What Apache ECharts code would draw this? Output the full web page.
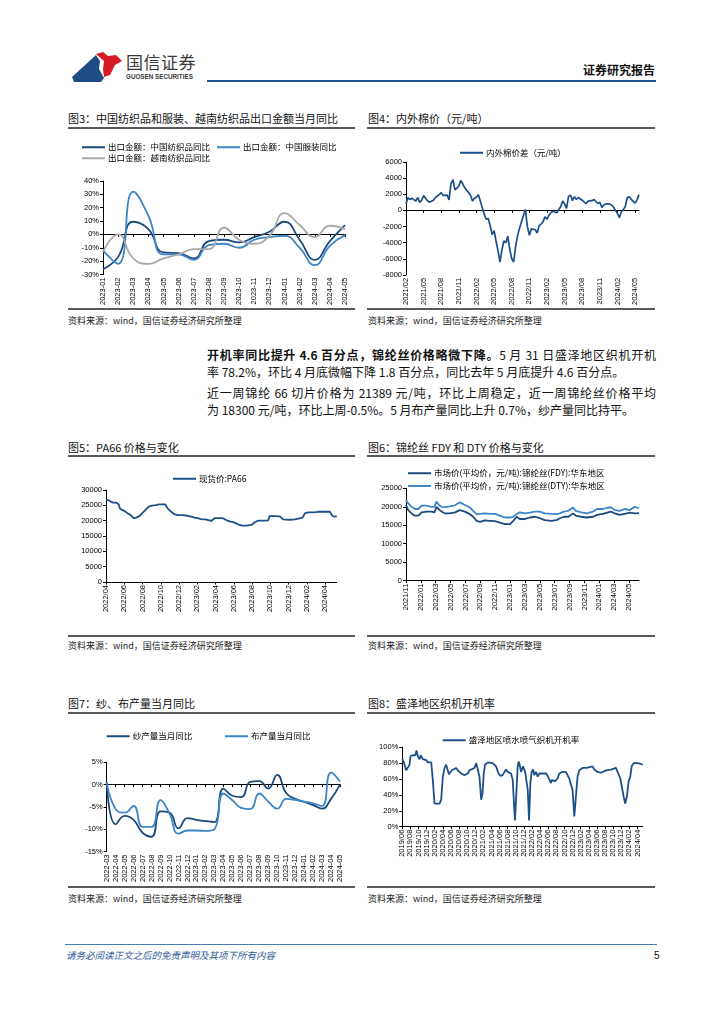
<!DOCTYPE html>
<html><head><meta charset="utf-8">
<script src="https://cdn.jsdelivr.net/npm/echarts@6/dist/echarts.min.js"></script>
<style>
body{margin:0;background:#fff;width:724px;height:1024px;position:relative;overflow:hidden;font-family:"Noto Sans CJK SC","Liberation Sans",sans-serif;color:#000}
.abs{position:absolute}
.title{font-size:11px;line-height:14px;color:#111;white-space:nowrap}
.rule{height:1.5px;background:#5a5a5a}
.src{font-size:9px;line-height:12px;color:#222;white-space:nowrap}
.para{font-size:12px;line-height:16px;white-space:nowrap;width:449px;color:#111}
.full{text-align:justify;text-align-last:justify}
.chart{position:absolute}
</style></head><body>

<!-- header -->
<svg class="abs" style="left:68px;top:50px" width="60" height="36" viewBox="0 0 60 36">
  <path d="M4,27 L28,5 L32,11 L31,19 L36,28 L33,32 L6,32 Z" fill="#1d4d84"/>
  <path d="M28,4 L35,2 L40,6 L48,5 L54,11 L47,15 L42,25 L36,27 L35,19 L36,11 Z" fill="#d71a27"/>
</svg>
<div class="abs" style="left:126px;top:52px;font-size:17px;line-height:20px;color:#3a3a3a;letter-spacing:0.5px">国信证券</div>
<div class="abs" style="left:126px;top:73px;font-size:6.3px;line-height:8px;color:#3a3a3a;font-family:'Liberation Sans';font-weight:bold">GUOSEN SECURITIES</div>
<div class="abs" style="left:207px;top:80px;width:449px;height:1.6px;background:#1f5592"></div>
<div class="abs" style="left:583px;top:62px;font-size:12px;line-height:16px;font-weight:bold;color:#111">证券研究报告</div>

<!-- row 1 -->
<div class="abs title" style="left:68px;top:111px">图3：中国纺织品和服装、越南纺织品出口金额当月同比</div>
<div class="abs title" style="left:368px;top:111px">图4：内外棉价（元/吨）</div>
<div class="abs rule" style="left:68px;top:127px;width:287px"></div>
<div class="abs rule" style="left:367px;top:127px;width:288px"></div>
<div class="abs rule" style="left:68px;top:308px;width:287px"></div>
<div class="abs rule" style="left:367px;top:308px;width:288px"></div>
<div class="abs src" style="left:68px;top:315px">资料来源：wind，国信证券经济研究所整理</div>
<div class="abs src" style="left:368px;top:315px">资料来源：wind，国信证券经济研究所整理</div>

<!-- paragraphs -->
<div class="abs para full" style="left:207px;top:347px"><b>开机率同比提升 4.6 百分点，锦纶丝价格略微下降。</b>5 月 31 日盛泽地区织机开机</div>
<div class="abs para" style="left:207px;top:364px">率 78.2%，环比 4 月底微幅下降 1.8 百分点，同比去年 5 月底提升 4.6 百分点。</div>
<div class="abs para full" style="left:207px;top:385px">近一周锦纶 66 切片价格为 21389 元/吨，环比上周稳定，近一周锦纶丝价格平均</div>
<div class="abs para" style="left:207px;top:402px">为 18300 元/吨，环比上周-0.5%。5 月布产量同比上升 0.7%，纱产量同比持平。</div>

<!-- row 2 -->
<div class="abs title" style="left:68px;top:440px">图5：PA66 价格与变化</div>
<div class="abs title" style="left:368px;top:440px">图6：锦纶丝 FDY 和 DTY 价格与变化</div>
<div class="abs rule" style="left:68px;top:455px;width:287px"></div>
<div class="abs rule" style="left:367px;top:455px;width:288px"></div>
<div class="abs rule" style="left:68px;top:635px;width:287px"></div>
<div class="abs rule" style="left:367px;top:635px;width:288px"></div>
<div class="abs src" style="left:68px;top:640px">资料来源：wind，国信证券经济研究所整理</div>
<div class="abs src" style="left:368px;top:640px">资料来源：wind，国信证券经济研究所整理</div>

<!-- row 3 -->
<div class="abs title" style="left:68px;top:696px">图7：纱、布产量当月同比</div>
<div class="abs title" style="left:368px;top:696px">图8：盛泽地区织机开机率</div>
<div class="abs rule" style="left:68px;top:712px;width:287px"></div>
<div class="abs rule" style="left:367px;top:712px;width:288px"></div>
<div class="abs rule" style="left:68px;top:886px;width:287px"></div>
<div class="abs rule" style="left:367px;top:886px;width:288px"></div>
<div class="abs src" style="left:68px;top:893px">资料来源：wind，国信证券经济研究所整理</div>
<div class="abs src" style="left:368px;top:893px">资料来源：wind，国信证券经济研究所整理</div>

<!-- footer -->
<div class="abs" style="left:65px;top:944px;width:592px;height:1px;background:#4a7ab0"></div>
<div class="abs" style="left:66px;top:949px;font-size:9.5px;line-height:13px;font-style:italic;color:#2f5a9a">请务必阅读正文之后的免责声明及其项下所有内容</div>
<div class="abs" style="left:654px;top:949px;font-size:10px;line-height:13px;color:#111;font-family:'Liberation Sans'">5</div>

<div id="c3" class="chart" style="left:60px;top:130px;width:300px;height:178px"></div>
<div id="c4" class="chart" style="left:360px;top:130px;width:300px;height:178px"></div>
<div id="c5" class="chart" style="left:60px;top:458px;width:300px;height:176px"></div>
<div id="c6" class="chart" style="left:360px;top:458px;width:300px;height:176px"></div>
<div id="c7" class="chart" style="left:60px;top:715px;width:300px;height:170px"></div>
<div id="c8" class="chart" style="left:360px;top:715px;width:300px;height:170px"></div>

<script>
// ---------- Chart 3 data ----------
const cats3 = ['2023-01','2023-02','2023-03','2023-04','2023-05','2023-06','2023-07','2023-08','2023-09','2023-10','2023-11','2023-12','2024-01','2024-02','2024-03','2024-04','2024-05'];
const textileCN = [-26,-17,9.5,4,-13.5,-14,-18,-5,-4,-6,-2,2,9.5,-4,-19,-5,7];
const apparelCN = [-12,-22,32,14,-15,-15,-19,-8,-7,-10,-4,-2,-1,-10,-23,-8.5,-0.5];
const textileVN = [-13,0,-18,-22,-18,-15,-11,-11,5,-4,-7,-1,16,7,-2,6.5,4];

// ---------- Chart 4 data (dekad readings from 2021/02) ----------
const cottonDiff = [800,1600,1350,1500,1300,1150,1600,1000,1250,1850,
 1500,1200,1000,900,1250,1600,1800,1950,2200,1850,
 2050,1900,1300,3300,3800,2550,2700,3000,3700,3300,
 2800,2500,2200,1850,1150,1500,1650,1950,1850,300,
 -500,-1100,-1000,-1900,-3000,-2500,-3800,-5000,-6400,-4900,
 -3800,-4000,-3200,-4800,-6000,-6400,-4500,-3100,-2200,-1400,
 -600,100,-2000,-3100,-2300,-2500,-2400,-2800,-1900,-1700,
 -1400,-800,-1100,-600,-300,-100,-250,-300,100,450,
 1150,800,250,1700,1900,1200,1700,1350,1600,1450,
 1250,1450,850,1150,1050,1200,1350,1500,850,1000,
 350,650,800,1000,800,650,400,0,-400,-900,
 -150,100,500,1600,1700,1350,1500,900,1300,1950];
const cottonTicks = ['2021/02','2021/05','2021/08','2021/11','2022/02','2022/05','2022/08','2022/11','2023/02','2023/05','2023/08','2023/11','2024/02','2024/05'];

// ---------- Chart 5 data ----------
const pa66Dates = ['2022-04-01','2022-04-10','2022-04-17','2022-04-25','2022-05-04','2022-05-13','2022-05-17','2022-05-24','2022-06-01','2022-06-12','2022-06-23','2022-07-01','2022-07-10','2022-07-21','2022-07-30','2022-08-11','2022-08-22','2022-09-02','2022-09-15','2022-09-26','2022-10-16','2022-10-24','2022-11-05','2022-11-16','2022-11-27','2022-12-13','2022-12-30','2023-01-11','2023-01-22','2023-02-02','2023-02-13','2023-02-28','2023-03-17','2023-03-28','2023-04-08','2023-04-25','2023-05-06','2023-05-20','2023-05-29','2023-06-09','2023-06-20','2023-06-29','2023-07-12','2023-07-29','2023-08-10','2023-08-21','2023-09-07','2023-09-24','2023-09-29','2023-10-16','2023-11-02','2023-11-13','2023-12-05','2023-12-22','2023-12-27','2024-01-17','2024-01-25','2024-02-05','2024-02-22','2024-03-09','2024-04-06','2024-04-17','2024-04-23','2024-05-01','2024-05-05','2024-05-09'];
const pa66 = [26700,26700,26200,25900,25900,25300,24000,23500,23200,22400,21800,20800,21000,21500,22400,23500,24600,24900,25100,25300,25300,24000,22900,22100,21800,21800,21600,21300,21000,20800,20500,20400,19900,20800,20800,20800,20200,19700,19500,19100,18600,18400,18400,18600,19500,20000,20000,20100,21500,21500,21400,20400,20300,20400,21000,21000,22400,22700,22700,22900,22900,22900,21800,21300,21000,21400];
const pa66Ticks = ['2022/04','2022/06','2022/08','2022/10','2022/12','2023/02','2023/04','2023/06','2023/08','2023/10','2023/12','2024/02','2024/04'];

// ---------- Chart 6 data ----------
const nylonDates = ['2021-11-01','2021-11-10','2021-11-24','2021-12-07','2021-12-21','2022-01-04','2022-01-25','2022-02-13','2022-02-26','2022-03-04','2022-03-14','2022-03-25','2022-04-08','2022-04-28','2022-05-19','2022-06-08','2022-06-29','2022-07-19','2022-08-02','2022-08-16','2022-08-30','2022-09-19','2022-10-10','2022-10-30','2022-11-20','2022-12-10','2022-12-31','2023-01-14','2023-01-28','2023-02-10','2023-03-01','2023-03-21','2023-04-11','2023-05-01','2023-05-21','2023-06-18','2023-07-08','2023-07-22','2023-08-08','2023-08-26','2023-09-15','2023-09-26','2023-10-19','2023-11-09','2023-12-06','2023-12-22','2024-01-16','2024-02-06','2024-02-19','2024-03-03','2024-03-23','2024-04-13','2024-05-04','2024-05-24','2024-06-11'];
const fdy = [20500,19100,18200,17600,17600,18500,18700,18700,18500,20000,19300,18700,18200,18200,18500,19100,18700,18000,17300,16200,15900,16300,16200,16100,15700,15300,15300,16200,17300,16700,16700,17100,17300,16900,16400,16200,16400,16900,17300,17300,18200,17600,17300,17100,17300,17800,18100,18500,18700,18200,17800,18100,18400,18200,18300];
const dty = [21800,20900,20000,19400,19400,20300,20300,20000,20000,21400,20500,20000,19900,20100,20400,21200,20500,19800,18900,18000,18100,18200,18100,18100,17600,17100,17100,17300,18000,18500,18200,18400,18700,18700,18200,18100,18000,18200,18700,18900,19800,18900,18500,18200,18700,19400,19400,19800,19800,19100,18900,19400,19100,20000,19600];
const nylonTicks = ['2021/11','2022/01','2022/03','2022/05','2022/07','2022/09','2022/11','2023/01','2023/03','2023/05','2023/07','2023/09','2023/11','2024/01','2024/03','2024/05'];

// ---------- Chart 7 data ----------
const cats7 = ['2022-03','2022-04','2022-05','2022-06','2022-07','2022-08','2022-09','2022-10','2022-11','2022-12','2023-01','2023-02','2023-03','2023-04','2023-05','2023-06','2023-07','2023-08','2023-09','2023-10','2023-11','2023-12','2024-01','2024-02','2024-03','2024-04','2024-05'];
const yarnYoY = [0.6,-8.9,-7,-7.9,-10.8,-11.7,-6,-6.3,-9.8,-7.5,-7.9,-8.2,-8.4,-0.9,-2.5,-2.8,0.6,0.8,-0.9,2.2,-1.9,-3.2,-3.9,-4.6,-5.4,-3.2,0];
const clothYoY = [0.5,-5.5,-6.3,-4.8,-9.5,-9.5,-3.5,-6.5,-11,-10.3,-10.3,-10.4,-10,-2,-3.5,-5.2,-5.5,-2,-3.8,-5.4,-3.2,-3.4,-3.8,-4.2,-4.8,2.7,0.7];

// ---------- Chart 8 data ----------
const rateDates = ['2019-06-01','2019-06-13','2019-06-30','2019-07-13','2019-07-25','2019-08-02','2019-08-20','2019-09-07','2019-09-17','2019-09-27','2019-10-09','2019-10-17','2019-11-04','2019-11-28','2019-12-10','2020-01-05','2020-01-17','2020-01-30','2020-03-07','2020-03-19','2020-04-01','2020-04-14','2020-04-26','2020-05-03','2020-05-16','2020-05-28','2020-06-08','2020-06-23','2020-07-10','2020-07-22','2020-08-04','2020-08-17','2020-09-11','2020-10-06','2020-10-18','2020-11-01','2020-11-25','2020-12-08','2020-12-20','2021-01-02','2021-01-15','2021-01-25','2021-02-04','2021-02-13','2021-03-04','2021-04-10','2021-05-05','2021-05-23','2021-06-07','2021-06-24','2021-07-07','2021-07-19','2021-08-01','2021-08-14','2021-08-26','2021-09-08','2021-09-15','2021-09-25','2021-10-05','2021-10-15','2021-10-23','2021-10-30','2021-11-10','2021-11-25','2021-12-10','2021-12-20','2021-12-30','2022-01-09','2022-01-19','2022-01-29','2022-02-09','2022-02-17','2022-03-01','2022-03-13','2022-03-26','2022-04-08','2022-04-20','2022-05-15','2022-05-27','2022-06-09','2022-06-21','2022-06-29','2022-07-12','2022-07-21','2022-08-11','2022-08-23','2022-09-17','2022-10-12','2022-10-24','2022-11-06','2022-11-19','2022-12-01','2022-12-14','2022-12-26','2023-01-08','2023-01-21','2023-02-15','2023-02-27','2023-03-17','2023-04-05','2023-04-29','2023-05-12','2023-06-06','2023-07-01','2023-08-08','2023-09-15','2023-10-22','2023-11-04','2023-11-24','2023-12-19','2024-01-01','2024-01-13','2024-01-26','2024-02-08','2024-02-18','2024-03-03','2024-04-02','2024-04-27','2024-05-10'];
const rateVals = [85,81,71,69,78,89,90,90,96,88,85,90,85,84,81,81,59,29,29,34,63,74,78,76,66,68,71,71,74,71,69,67,65,67,71,72,74,80,80,63,34,42,67,78,81,80,76,67,64,65,69,72,69,71,67,59,38,8,42,76,82,78,69,76,69,71,46,8,55,69,72,65,69,63,67,66,67,67,64,65,55,59,60,57,61,67,69,69,65,61,62,46,13,38,63,71,74,76,74,75,76,72,69,68,71,72,74,72,61,38,29,38,57,63,76,80,80,79,78];
const rateTicks = ['2019/06','2019/08','2019/10','2019/12','2020/02','2020/04','2020/06','2020/08','2020/10','2020/12','2021/02','2021/04','2021/06','2021/08','2021/10','2021/12','2022/02','2022/04','2022/06','2022/08','2022/10','2022/12','2023/02','2023/04','2023/06','2023/08','2023/10','2023/12','2024/02','2024/04'];

// ---------- helpers ----------
const FONT = '"Liberation Sans","Noto Sans CJK SC",sans-serif';
const CJK = '"Noto Sans CJK SC","Liberation Sans",sans-serif';
const DARK = '#1b4a7b', LIGHT = '#3c86c6', GRAY = '#a8a8a8';
function mOff(d, y0, m0){ const p = d.split('-').map(Number); return (p[0]-y0)*12 + (p[1]-m0) + (p[2]-1)/30.5; }
function pad(n){ return (n<10?'0':'')+n; }
function plain(v){ return String(v); }
function pct(v){ return v + '%'; }
function yAxis(min,max,interval,fmt){
  return {type:'value',min,max,interval,
    axisLine:{show:true,lineStyle:{color:'#000',width:1}},
    axisTick:{show:true,length:3,lineStyle:{color:'#000'}},
    splitLine:{show:false},
    axisLabel:{fontSize:7.5,color:'#000',margin:4,fontFamily:FONT,formatter:fmt||plain}};
}
function catX(cats){
  return {type:'category',data:cats,boundaryGap:false,
    axisLine:{onZero:true,lineStyle:{color:'#000',width:1}},
    axisTick:{show:true,length:2.5,interval:0,lineStyle:{color:'#000'}},
    axisLabel:{rotate:90,interval:0,fontSize:7.5,color:'#000',margin:3,fontFamily:FONT}};
}
function dateX(maxOff, interval, ticks){
  return {type:'value',min:0,max:maxOff,interval,
    axisLine:{onZero:true,lineStyle:{color:'#000',width:1}},
    axisTick:{show:true,length:2.5,lineStyle:{color:'#000'}},
    splitLine:{show:false},
    axisLabel:{rotate:90,fontSize:7.5,color:'#000',margin:3,fontFamily:FONT,showMaxLabel:false,
      formatter:function(v){ const i = v/interval; return Number.isInteger(i) && ticks[i] ? ticks[i] : ''; }}};
}
function legend(name,left,top){
  return {data:[name],left,top,icon:'rect',itemWidth:23,itemHeight:2,itemGap:0,padding:0,selectedMode:false,
    textStyle:{fontSize:8.5,color:'#000',fontFamily:CJK,padding:[0,0,0,-2]}};
}
function line(name,data,color,width,smooth){
  return {type:'line',name,data,showSymbol:false,smooth:smooth||false,
    lineStyle:{color,width:width||1.6},itemStyle:{color},emphasis:{disabled:true}};
}
function make(id,opt){ const c = echarts.init(document.getElementById(id),null,{renderer:'canvas'}); opt.animation=false; c.setOption(opt); }

// ---------- Chart 3 ----------
make('c3',{
  legend:[legend('出口金额：中国纺织品同比',22,13),legend('出口金额：中国服装同比',157,13),legend('出口金额：越南纺织品同比',22,24)],
  grid:{left:43,top:51,width:242,height:112},
  xAxis:catX(cats3),
  yAxis:yAxis(-30,40,10,pct),
  series:[line('出口金额：中国纺织品同比',textileCN,DARK,1.8,0.5),
          line('出口金额：中国服装同比',apparelCN,LIGHT,1.8,0.5),
          line('出口金额：越南纺织品同比',textileVN,GRAY,1.8,0.5)]
});

// ---------- Chart 4 ----------
(function(){
  const pts = [];
  for (let k=0;k<cottonDiff.length;k++){
    const t = 1 + Math.floor(k/3);
    const date = (2021+Math.floor(t/12))+'-'+pad(t%12+1)+'-'+pad([1,11,21][k%3]);
    pts.push([mOff(date,2021,2), cottonDiff[k]]);
  }
  make('c4',{
    legend:[legend('内外棉价差（元/吨）',100,18.5)],
    grid:{left:46,top:32,width:233,height:133.3},
    xAxis:dateX(pts[pts.length-1][0],3,cottonTicks),
    yAxis:yAxis(-8000,6000,2000),
    series:[line('内外棉价差（元/吨）',pts,'#1d5088',1.7)]
  });
})();

// ---------- Chart 5 ----------
(function(){
  const pts = pa66Dates.map((d,i)=>[mOff(d,2022,4),pa66[i]]);
  make('c5',{
    legend:[legend('现货价:PA66',113,16.5)],
    grid:{left:46,top:32,width:230.7,height:92},
    xAxis:dateX(pts[pts.length-1][0],2,pa66Ticks),
    yAxis:yAxis(0,30000,5000),
    series:[line('现货价:PA66',pts,'#1d5088',1.8)]
  });
})();

// ---------- Chart 6 ----------
(function(){
  const p1 = nylonDates.map((d,i)=>[mOff(d,2021,11),fdy[i]]);
  const p2 = nylonDates.map((d,i)=>[mOff(d,2021,11),dty[i]]);
  const n1 = '市场价(平均价，元/吨):锦纶丝(FDY):华东地区', n2 = '市场价(平均价，元/吨):锦纶丝(DTY):华东地区';
  make('c6',{
    legend:[legend(n1,48,11),legend(n2,48,23.7)],
    grid:{left:46,top:30.3,width:233,height:92.4},
    xAxis:dateX(p1[p1.length-1][0],2,nylonTicks),
    yAxis:yAxis(0,25000,5000),
    series:[line(n1,p1,DARK,1.8),line(n2,p2,LIGHT,1.8)]
  });
})();

// ---------- Chart 7 ----------
make('c7',{
  legend:[legend('纱产量当月同比',46.7,17),legend('布产量当月同比',165,17)],
  grid:{left:46.7,top:47.3,width:233.3,height:105.4},
  xAxis:catX(cats7),
  yAxis:yAxis(-15,5,5,pct),
  series:[line('纱产量当月同比',yarnYoY,DARK,1.8,0.5),line('布产量当月同比',clothYoY,LIGHT,1.8,0.5)]
});

// ---------- Chart 8 ----------
(function(){
  const pts = rateDates.map((d,i)=>[mOff(d,2019,6),rateVals[i]]);
  make('c8',{
    legend:[legend('盛泽地区喷水喷气织机开机率',82.7,21)],
    grid:{left:42.3,top:32.3,width:240.4,height:79.4},
    xAxis:dateX(pts[pts.length-1][0],2,rateTicks),
    yAxis:yAxis(0,100,20,pct),
    series:[line('盛泽地区喷水喷气织机开机率',pts,'#1d5088',1.8)]
  });
})();
</script>
</body></html>
